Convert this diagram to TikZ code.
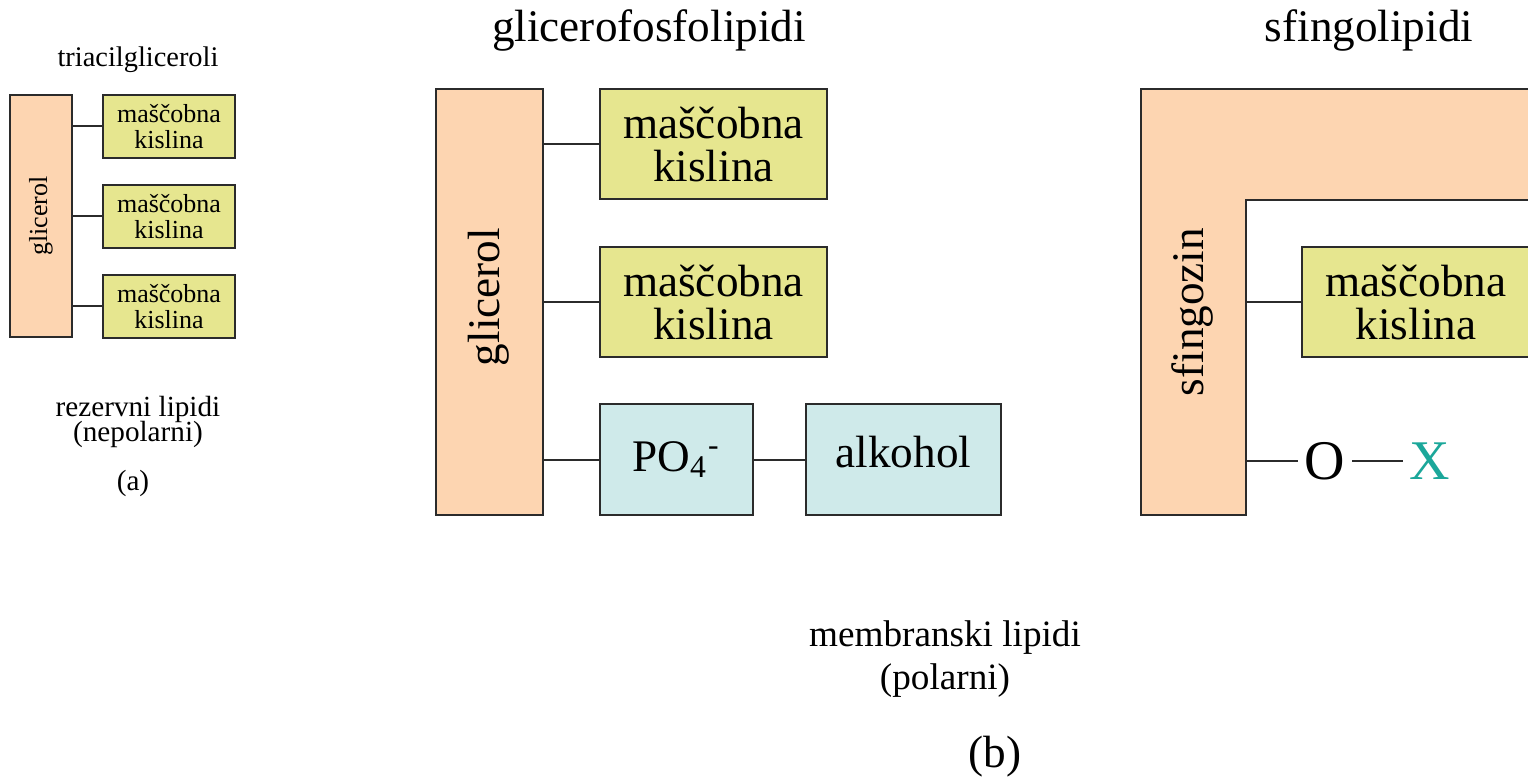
\documentclass[tikz,border=0pt]{standalone}
\usepackage{fontspec}
\setmainfont{Liberation Serif}
\usepackage{xcolor}
\usepackage{tikz}
\usetikzlibrary{positioning}
\definecolor{peach}{HTML}{FDD5B1}
\definecolor{lemon}{HTML}{E6E68F}
\definecolor{aqua}{HTML}{CFEAEA}
\definecolor{tealx}{HTML}{1BA79A}
\definecolor{edge}{HTML}{2B2B2B}

\begin{document}
\begin{tikzpicture}[
x=0.25pt,
y=-0.25pt,
box/.style={
  draw=edge,
  line width=0.5pt,
  inner sep=0pt,
  outer sep=0pt,
  align=center
  },
base/.style={box, fill=peach},
acid/.style={box, fill=lemon},
head/.style={box, fill=aqua},
bond/.style={draw=edge, line width=0.5pt},
small/.style={font=\fontsize{6.5}{6.3}\selectfont},
big/.style={font=\fontsize{11.3}{10.6}\selectfont},
title/.style={align=center, inner sep=0pt}
]
\clip (0,0) rectangle (1528,779);
% (a) triacilgliceroli
\node[title, font=\fontsize{7.1}{8}\selectfont] (titA) at (138,60) {triacilgliceroli};
\node[base, minimum width=15.5pt, minimum height=60.5pt] (glicA) at (41,216) {};
\node[small, rotate=90] at (glicA) {glicerol};
\foreach \yy [count=\i] in {126.5,216.5,306.5}
{
  \node[acid, small, minimum width=33pt, minimum height=15.75pt] (kisA-\i) at (169,\yy) {maščobna\\kislina};
  \draw[bond] (glicA.east |- kisA-\i) -- (kisA-\i.west);
}
\node[title, font=\fontsize{7.3}{8}\selectfont] (rezA) at (138,409) {rezervni lipidi};
\node[title, font=\fontsize{7.3}{8}\selectfont] (nepA) at (138,434) {(nepolarni)};
\node[title, font=\fontsize{7.3}{8}\selectfont] at (133,483) {(a)};
% (b) glicerofosfolipidi
\node[title, big] (titB) at (649,30) {glicerofosfolipidi};
\node[base, minimum width=26.75pt, minimum height=106.5pt] (glicB) at (489.5,302) {};
\node[big, rotate=90] at (489,297) {glicerol};
\foreach \yy [count=\i] in {144.5,302.5}
{
  \node[acid, big, minimum width=56.75pt, minimum height=27.5pt] (kisB-\i) at (713.5,\yy) {maščobna\\kislina};
  \draw[bond] (glicB.east |- kisB-\i) -- (kisB-\i.west);
}
\node[head, big, minimum width=38.25pt, minimum height=27.75pt] (fos) at (676.5,459.5) {PO\textsubscript{4}\textsuperscript{-}};
\node[head, big, minimum width=48.75pt, minimum height=27.75pt] (alk) at (903.5,459.5) {alkohol\rule[-4pt]{0pt}{0pt}};
\draw[bond] (glicB.east |- fos) -- (fos.west);
\draw[bond] (fos) -- (alk);
% sfingolipidi
\node[title, big] (titC) at (1369,30) {sfingolipidi};
\draw[bond, fill=peach] (1141,89) -- (1560,89) -- (1560,200) -- (1246,200) -- (1246,515) -- (1141,515) -- cycle;
\node[big, rotate=90] at (1192,312) {sfingozin};
\coordinate (sfinA) at (1246,302.5);
\coordinate (sfinB) at (1246,461);
\node[acid, big, minimum width=64.5pt, minimum height=27.5pt] (kisC) at (1431,302.5) {\hspace*{-7.5pt}maščobna\\\hspace*{-7.5pt}kislina};
\draw[bond] (sfinA) -- (kisC.west);
\node[font=\fontsize{14}{14}\selectfont, inner sep=1.5pt] (oks) at (1325,461) {O};
\node[font=\fontsize{14}{14}\selectfont, inner sep=1.5pt, text=tealx] (iks) at (1430,461) {X};
\draw[bond] (sfinB) -- (oks);
\draw[bond] (oks) -- (iks);
\node[title, font=\fontsize{9.3}{10.8}\selectfont] (memB) at (945,659) {membranski lipidi\\(polarni)};
\node[title, big] at (995,757) {(b)};
\end{tikzpicture}
\end{document}
